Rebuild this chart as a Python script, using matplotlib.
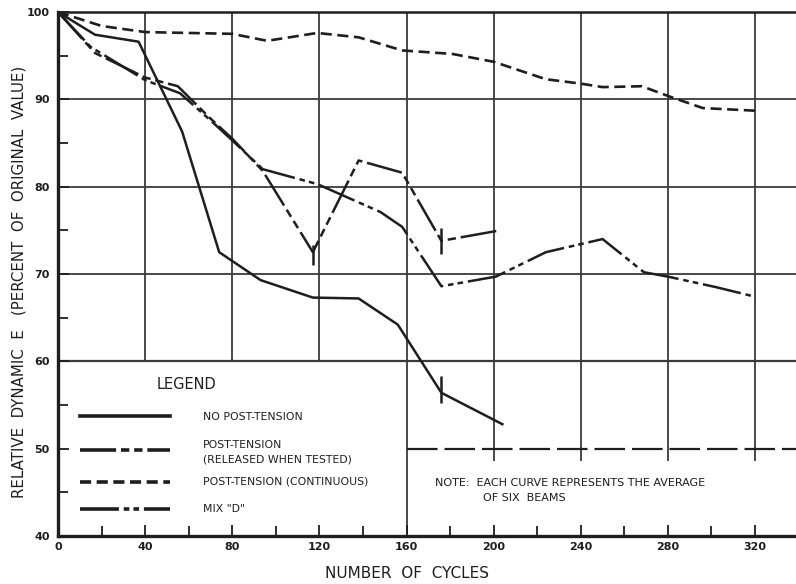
import matplotlib
matplotlib.use("Agg")
import matplotlib.pyplot as plt

plt.rcParams['font.family'] = ['DejaVu Sans']
plt.rcParams['lines.scale_dashes'] = False

# ---------------- data ----------------
cycles_no_pt = [0, 17, 37, 57, 74, 93, 117, 138, 156, 176, 204]
e_no_pt = [100, 97.4, 96.6, 86.3, 72.5, 69.3, 67.3, 67.2, 64.2, 56.4, 52.8]

cycles_released = [0, 17, 40, 55, 70, 80, 94, 117, 138, 158, 176, 203]
e_released = [100, 95.3, 92.5, 91.5, 87.8, 85.5, 81.8, 72.5, 83.0, 81.6, 73.8, 75.0]

cycles_cont = [0, 20, 40, 80, 96, 119, 138, 158, 181, 200, 224, 240, 250, 268, 281, 296, 320]
e_cont = [100, 98.4, 97.7, 97.5, 96.7, 97.6, 97.1, 95.6, 95.2, 94.3, 92.3, 91.8, 91.4, 91.5, 90.3, 89.0, 88.7]

cycles_mixd = [0, 15, 40, 56, 70, 80, 94, 119, 148, 158, 176, 201, 224, 250, 269, 280, 302, 320]
e_mixd = [100, 96.0, 92.2, 90.7, 87.6, 85.3, 82.0, 80.3, 77.1, 75.4, 68.6, 69.7, 72.5, 74.0, 70.2, 69.7, 68.5, 67.4]

# short vertical marks on curves
mark_x = [117, 176, 176]
mark_lo = [71.0, 72.3, 55.2]
mark_hi = [73.3, 75.3, 58.3]

x_major = [0, 40, 80, 120, 160, 200, 240, 280, 320]
y_major = [40, 50, 60, 70, 80, 90, 100]

legend_labels = ["NO POST-TENSION", "POST-TENSION\n(RELEASED WHEN TESTED)",
                 "POST-TENSION (CONTINUOUS)", 'MIX "D"']

# ---------------- styles ----------------
INK = "#1e1e1e"
GRID = "#3a3a3a"
sty_solid = dict(color=INK, lw=1.8, linestyle="-")
sty_released = dict(color=INK, lw=1.8, linestyle=(0, (26, 3.5, 6, 3.5, 6, 3.5)))
sty_cont = dict(color=INK, lw=1.9, linestyle=(0, (8, 4)))
sty_mixd = dict(color=INK, lw=1.8, linestyle=(0, (28, 3.5, 4, 3, 4, 3.5)))

fig = plt.figure(figsize=(7.96, 5.84), dpi=100)
ax = fig.add_axes([58 / 796, 48 / 584, 738 / 796, 524 / 584])
XMAX = 338.8
ax.set_xlim(0, XMAX)
ax.set_ylim(40, 100)

# grid (partial, as in the reference)
ax.hlines([70, 80, 90], 0, XMAX, color=GRID, lw=1.3, zorder=1)
ax.hlines([60], 0, XMAX, color=GRID, lw=1.6, zorder=1)
ax.vlines([40, 80, 120], 60, 100, color=GRID, lw=1.3, zorder=1)
ax.vlines([160], 40, 100, color=GRID, lw=1.3, zorder=1)
ax.vlines([200, 240, 280, 320], 48.6, 100, color=GRID, lw=1.3, zorder=1)
ax.hlines([50], 160, XMAX, color=INK, lw=1.6, linestyles=[(0, (22, 5))], zorder=1)

# curves
ax.plot(cycles_no_pt, e_no_pt, zorder=3, **sty_solid)
ax.plot(cycles_released, e_released, zorder=3, **sty_released)
ax.plot(cycles_cont, e_cont, zorder=3, **sty_cont)
ax.plot(cycles_mixd, e_mixd, zorder=3, **sty_mixd)
ax.vlines(mark_x, mark_lo, mark_hi, color=INK, lw=1.8, zorder=3)

# legend drawn inside lower-left box
ax.text(45.5, 57.4, "LEGEND", fontsize=10.5, ha="left", va="center", color=INK)
leg_y = [53.7, 49.9, 46.2, 43.1]
for y, sty in zip(leg_y, [sty_solid, sty_released, sty_cont, sty_mixd]):
    s = dict(sty)
    s["lw"] = 2.6
    ax.plot([10, 51.5], [y, y], **s)
txt_y = [53.6, 49.6, 46.2, 43.1]
for y, lab in zip(txt_y, legend_labels):
    ax.text(66.5, y, lab, fontsize=7.8, ha="left", va="center", color=INK,
            linespacing=1.5)

ax.text(173, 46.1, "NOTE:  EACH CURVE REPRESENTS THE AVERAGE", fontsize=8, ha="left",
        va="center", color=INK)
ax.text(195, 44.4, "OF SIX  BEAMS", fontsize=8, ha="left", va="center", color=INK)

# axes formatting
ax.set_xticks(x_major)
ax.set_xticks([20, 60, 100, 140, 180, 220, 260, 300], minor=True)
ax.set_yticks(y_major)
ax.set_yticks([45, 55, 65, 75, 85, 95], minor=True)
ax.tick_params(which="both", direction="in", color=INK, width=1.3)
ax.tick_params(which="major", length=8)
ax.tick_params(which="minor", length=7)
ax.tick_params(axis="x", labelsize=8, pad=4)
ax.tick_params(axis="y", labelsize=8, pad=6)
for lab in ax.get_xticklabels() + ax.get_yticklabels():
    lab.set_fontweight("bold")
    lab.set_color(INK)

ax.spines["right"].set_visible(False)
ax.spines["top"].set_linewidth(1.8)
ax.spines["left"].set_linewidth(2.4)
ax.spines["bottom"].set_linewidth(2.4)
for sp in ax.spines.values():
    sp.set_color(INK)

ax.set_xlabel("NUMBER  OF  CYCLES", fontsize=11, color=INK)
ax.xaxis.set_label_coords(160 / XMAX, -0.058)
ax.set_ylabel("RELATIVE  DYNAMIC  E   (PERCENT  OF  ORIGINAL  VALUE)", fontsize=10.8,
              color=INK)
ax.yaxis.set_label_coords(-0.043, 0.485)

fig.savefig("out.png", dpi=100, facecolor="white")
